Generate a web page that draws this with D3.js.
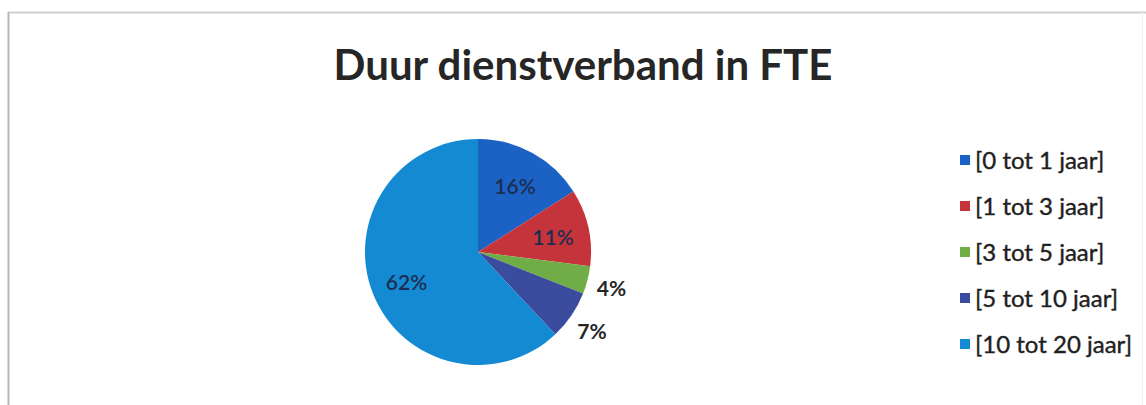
<!DOCTYPE html>
<html>
<head>
<meta charset="utf-8">
<script src="https://cdn.jsdelivr.net/npm/d3@7"></script>
<style>
  html, body { margin: 0; padding: 0; background: #ffffff; }
  svg { display: block; }
  text { font-family: Lato, "Open Sans", "Liberation Sans", sans-serif; }
</style>
</head>
<body>
<svg id="chart" width="1146" height="405"></svg>
<script>
// Share of FTE per length-of-service band
const categories = ["[0 tot 1 jaar]", "[1 tot 3 jaar]", "[3 tot 5 jaar]", "[5 tot 10 jaar]", "[10 tot 20 jaar]"];
const values = [16, 11, 4, 7, 62];
const colors = ["#1b62c4", "#c6343b", "#70ad47", "#3b4b9e", "#148ad2"];
// labels drawn outside the slice (small slices)
const outside = [false, false, true, true, false];
const title = "Duur dienstverband in FTE";

const svg = d3.select("#chart");

// chart frame: top and left edges, faint right edge
svg.append("line").attr("x1", 8).attr("x2", 1146).attr("y1", 12.5).attr("y2", 12.5)
  .attr("stroke", "#d0d0d0").attr("stroke-width", 2);
svg.append("line").attr("x1", 8.5).attr("x2", 8.5).attr("y1", 12).attr("y2", 405)
  .attr("stroke", "#b8b8b8").attr("stroke-width", 2);
svg.append("line").attr("x1", 1142.5).attr("x2", 1142.5).attr("y1", 12).attr("y2", 405)
  .attr("stroke", "#f0f0f0").attr("stroke-width", 1);

svg.append("text")
  .attr("x", 583).attr("y", 80)
  .attr("text-anchor", "middle")
  .attr("font-size", 42)
  .attr("font-weight", 700)
  .attr("fill", "#262626")
  .text(title);

const cx = 478, cy = 252, r = 113;
const data = categories.map((c, i) => ({ cat: c, value: values[i], color: colors[i], out: outside[i] }));

const pie = d3.pie().value(d => d.value).sort(null);
const arc = d3.arc().innerRadius(0).outerRadius(r);
const labelArcIn = d3.arc().innerRadius(r * 0.68).outerRadius(r * 0.68);
const labelArcOut = d3.arc().innerRadius(r * 1.22).outerRadius(r * 1.22);

const g = svg.append("g").attr("transform", `translate(${cx},${cy})`);
const arcs = pie(data);

g.selectAll("path.slice")
  .data(arcs)
  .join("path")
  .attr("class", "slice")
  .attr("d", arc)
  .attr("fill", d => d.data.color);

g.selectAll("text.lbl")
  .data(arcs)
  .join("text")
  .attr("class", "lbl")
  .attr("transform", d => `translate(${(d.data.out ? labelArcOut : labelArcIn).centroid(d)})`)
  .attr("text-anchor", "middle")
  .attr("dy", "0.45em")
  .attr("font-size", 21)
  .attr("font-weight", d => d.data.out ? 700 : 600)
  .attr("fill", d => d.data.out ? "#262626" : "#1d2d52")
  .text(d => d.data.value + "%");

// legend
const legend = svg.append("g").attr("transform", "translate(960,160)");
const rowH = 46;
const items = legend.selectAll("g.item")
  .data(data)
  .join("g")
  .attr("class", "item")
  .attr("transform", (d, i) => `translate(0,${i * rowH})`);

items.append("rect")
  .attr("x", 0).attr("y", -5)
  .attr("width", 10).attr("height", 10)
  .attr("fill", d => d.color);

items.append("text")
  .attr("x", 15).attr("y", 0)
  .attr("dy", "0.36em")
  .attr("font-size", 24)
  .attr("fill", "#1f1f1f")
  .attr("stroke", "#1f1f1f")
  .attr("stroke-width", 0.4)
  .text(d => d.cat);
</script>
</body>
</html>
